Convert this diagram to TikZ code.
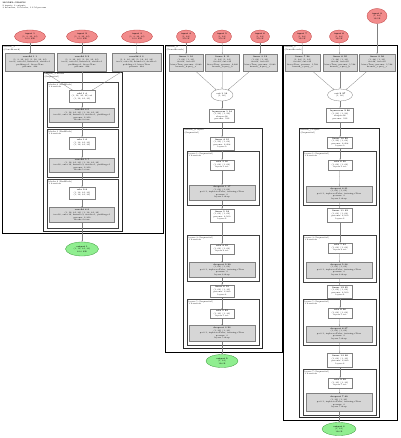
\documentclass[tikz,border=0pt]{standalone}
\usetikzlibrary{arrows.meta,positioning,shapes.geometric}
\definecolor{inred}{HTML}{F28C8C}
\definecolor{inredline}{HTML}{C04040}
\definecolor{outgreen}{HTML}{90EE90}
\definecolor{outgreenline}{HTML}{3C9A3C}
\definecolor{opgray}{HTML}{D6D6D6}
\newcommand{\gsz}{\fontsize{2}{2.5}\selectfont}
\tikzset{
  lbl/.style={font=\gsz, align=center, inner sep=0.6pt},
  innode/.style={lbl, ellipse, draw=inredline, fill=inred, line width=0.3pt, inner sep=0pt},
  outnode/.style={lbl, ellipse, draw=outgreenline, fill=outgreen, line width=0.3pt, inner sep=0pt},
  opbox/.style={lbl, rectangle, draw=gray, fill=opgray, line width=0.3pt},
  fnbox/.style={lbl, rectangle, draw=gray, fill=white, line width=0.3pt},
  fnell/.style={lbl, ellipse, draw=gray, fill=white, line width=0.3pt, inner sep=0pt},
  topclu/.style={draw=black, line width=0.9pt},
  midclu/.style={draw=black!85, line width=0.6pt},
  subclu/.style={draw=black!75, line width=0.5pt},
  clulbl/.style={font=\gsz, align=left, anchor=north west, inner sep=0.4pt},
  flow/.style={draw=gray, line width=0.25pt, -{Stealth[length=1.2pt,width=1pt]}},
}
\begin{document}
\begin{tikzpicture}[x=1pt,y=-1pt]
  \useasboundingbox[fill=white] (0,0) rectangle (400,438);
  \node[clulbl] (title) at (2,1.5) {\textbf{MODEL GRAPH}\\9 inputs, 3 outputs\\3 branches, 10 blocks, 1.2 M params};

  % clusters
  \draw[topclu] (2,45) rectangle (163,233);
  \node[clulbl] (aL) at (3,46) {branch\_a\\(ConvBranch)};
  \draw[midclu] (43,72) rectangle (122,231);
  \node[clulbl] (aL0) at (44,73) {branch\_a.blocks\\(Sequential)};
  \draw[subclu] (47,82) rectangle (118,127);
  \node[clulbl] (aL1) at (48,83) {blocks.0 (ResBlock)\\1 iteration};
  \draw[subclu] (47,129) rectangle (118,177);
  \node[clulbl] (aL2) at (48,130) {blocks.1 (ResBlock)\\1 iteration};
  \draw[subclu] (47,179) rectangle (118,228);
  \node[clulbl] (aL3) at (48,180) {blocks.2 (ResBlock)\\1 iteration};

  \draw[topclu] (165,45) rectangle (282,352);
  \node[clulbl] (bL) at (166,46) {branch\_b\\(DenseBranch)};
  \draw[midclu] (183,128) rectangle (262,348);
  \node[clulbl] (bL0) at (184,129) {branch\_b.layers\\(Sequential)};
  \draw[subclu] (187,151) rectangle (259,205);
  \node[clulbl] (bL1) at (188,152) {layers.1 (Sequential)\\1 iteration};
  \draw[subclu] (187,235) rectangle (259,281);
  \node[clulbl] (bL2) at (188,236) {layers.3 (Sequential)\\1 iteration};
  \draw[subclu] (187,299) rectangle (259,345);
  \node[clulbl] (bL3) at (188,300) {layers.5 (Sequential)\\1 iteration};

  \draw[topclu] (283,45) rectangle (397,420);
  \node[clulbl] (cL) at (284,46) {branch\_c\\(DenseBranch)};
  \draw[midclu] (299,128) rectangle (379,417);
  \node[clulbl] (cL0) at (300,129) {branch\_c.layers\\(Sequential)};
  \draw[subclu] (303,151) rectangle (376,205);
  \node[clulbl] (cL1) at (304,152) {layers.1 (Sequential)\\1 iteration};
  \draw[subclu] (303,235) rectangle (376,282);
  \node[clulbl] (cL2) at (304,236) {layers.3 (Sequential)\\1 iteration};
  \draw[subclu] (303,299) rectangle (376,345);
  \node[clulbl] (cL3) at (304,300) {layers.5 (Sequential)\\1 iteration};
  \draw[subclu] (303,369) rectangle (376,415);
  \node[clulbl] (cL4) at (304,370) {layers.7 (Sequential)\\1 iteration};

  % branch a
  \node[innode, minimum width=31, minimum height=13] (a_in1) at (30,36.5) {\textbf{input 1}\\(1, 3, 32, 32)\\12.0 KB};
  \node[innode, minimum width=31, minimum height=13] (a_in2) at (82,36.5) {\textbf{input 2}\\(1, 3, 32, 32)\\12.0 KB};
  \node[innode, minimum width=31, minimum height=13] (a_in3) at (137,36.5) {\textbf{input 3}\\(1, 3, 32, 32)\\12.0 KB};
  \node[opbox, minimum width=49, minimum height=18] (a_op1) at (30,62.5) {\textbf{conv2d 1 1}\\(1, 3, 32, 32) (1, 16, 32, 32)\\in=3, out=16, kernel=3, stride=1\\padding=1, bias=True\\params: 448};
  \node[opbox, minimum width=49, minimum height=18] (a_op2) at (82,62.5) {\textbf{conv2d 2 2}\\(1, 3, 32, 32) (1, 16, 32, 32)\\in=3, out=16, kernel=3, stride=1\\padding=1, bias=True\\params: 448};
  \node[opbox, minimum width=49, minimum height=18] (a_op3) at (136.5,62.5) {\textbf{conv2d 3 3}\\(1, 3, 32, 32) (1, 16, 32, 32)\\in=3, out=16, kernel=3, stride=1\\padding=1, bias=True\\params: 448};
  \node[fnbox, minimum width=26, minimum height=12] (a_w1) at (82,96.5) {\textbf{add 1 4}\\(1, 16, 32, 32) x3\\(1, 16, 32, 32)};
  \node[opbox, minimum width=65, minimum height=14] (a_g1) at (82,115) {\textbf{conv2d 4 5}\\(1, 16, 32, 32) (1, 16, 32, 32)\\in=16, out=16, kernel=3, stride=1, padding=1\\params: 2,320\\blocks.0.conv};
  \node[fnbox, minimum width=26, minimum height=12] (a_w2) at (82,143) {\textbf{relu 1 6}\\(1, 16, 32, 32)\\(1, 16, 32, 32)};
  \node[opbox, minimum width=65, minimum height=14] (a_g2) at (82,165) {\textbf{conv2d 5 7}\\(1, 16, 32, 32) (1, 16, 32, 32)\\in=16, out=16, kernel=3, stride=1, padding=1\\params: 2,320\\blocks.1.conv};
  \node[fnbox, minimum width=26, minimum height=12] (a_w3) at (82,193) {\textbf{relu 2 8}\\(1, 16, 32, 32)\\(1, 16, 32, 32)};
  \node[opbox, minimum width=65, minimum height=15] (a_g3) at (82,215) {\textbf{conv2d 6 9}\\(1, 16, 32, 32) (1, 16, 32, 32)\\in=16, out=16, kernel=3, stride=1, padding=1\\params: 2,320\\blocks.2.conv};
  \node[outnode, minimum width=33, minimum height=14] (a_out) at (82,249) {\textbf{output 1}\\(1, 16, 32, 32)\\64.0 KB};

  \draw[flow] (a_in1) -- (a_op1);
  \draw[flow] (a_in2) -- (a_op2);
  \draw[flow] (a_in3) -- (a_op3);
  \draw[flow] (a_op1) -- (a_w1);
  \draw[flow] (a_op2) -- (a_w1);
  \draw[flow] (a_op3) -- (a_w1);
  \draw[flow] (a_w1) -- (a_g1);
  \draw[flow] (a_g1) -- (a_w2);
  \draw[flow] (a_w2) -- (a_g2);
  \draw[flow] (a_g2) -- (a_w3);
  \draw[flow] (a_w3) -- (a_g3);
  \draw[flow] (a_g3) -- (a_out);

  % branch b
  \node[innode, minimum width=19, minimum height=13] (b_in1) at (186,36.5) {\textbf{input 4}\\(1, 64)\\256 B};
  \node[innode, minimum width=19, minimum height=13] (b_in2) at (222,36.5) {\textbf{input 5}\\(1, 64)\\256 B};
  \node[innode, minimum width=19, minimum height=13] (b_in3) at (260,36.5) {\textbf{input 6}\\(1, 64)\\256 B};
  \node[opbox, minimum width=34, minimum height=17] (b_op1) at (186,62.5) {\textbf{linear 1 10}\\(1, 64) (1, 32)\\in=64, out=32\\bias=True, params: 2,080\\branch\_b.proj\_a};
  \node[opbox, minimum width=34, minimum height=17] (b_op2) at (222.5,62.5) {\textbf{linear 2 11}\\(1, 64) (1, 32)\\in=64, out=32\\bias=True, params: 2,080\\branch\_b.proj\_b};
  \node[opbox, minimum width=34, minimum height=17] (b_op3) at (260,62.5) {\textbf{linear 3 12}\\(1, 64) (1, 32)\\in=64, out=32\\bias=True, params: 2,080\\branch\_b.proj\_c};
  \node[fnell, minimum width=22, minimum height=12] (b_cat) at (222,95) {\textbf{cat 1 13}\\(1, 96)};
  \node[fnbox, minimum width=25, minimum height=13] (b_box) at (222,115.5) {\textbf{layernorm 1 14}\\(1, 96) (1, 96)\\shape=96\\params: 192};
  \node[fnbox, minimum width=24, minimum height=13] (b_p1) at (222,143.5) {\textbf{linear 4 15}\\(1, 96) (1, 64)\\params: 6,208\\layers.0};
  \node[fnbox, minimum width=24, minimum height=10] (b_n1w) at (222,165) {\textbf{relu 3 16}\\(1, 64) (1, 64)\\layers.1.act};
  \node[opbox, minimum width=66, minimum height=15] (b_n1g) at (222,192.5) {\textbf{dropout 1 17}\\(1, 64) (1, 64)\\p=0.1, inplace=False, training=True\\params: 0\\layers.1.drop};
  \node[fnbox, minimum width=24, minimum height=13] (b_p2) at (222,215.5) {\textbf{linear 5 18}\\(1, 64) (1, 64)\\params: 4,160\\layers.2};
  \node[fnbox, minimum width=24, minimum height=10] (b_n2w) at (222,249) {\textbf{relu 4 19}\\(1, 64) (1, 64)\\layers.3.act};
  \node[opbox, minimum width=66, minimum height=15] (b_n2g) at (222,270) {\textbf{dropout 2 20}\\(1, 64) (1, 64)\\p=0.1, inplace=False, training=True\\params: 0\\layers.3.drop};
  \node[fnbox, minimum width=24, minimum height=12] (b_p3) at (222,291) {\textbf{linear 6 21}\\(1, 64) (1, 32)\\params: 2,080\\layers.4};
  \node[fnbox, minimum width=24, minimum height=9] (b_n3w) at (222,314) {\textbf{relu 5 22}\\(1, 32) (1, 32)\\layers.5.act};
  \node[opbox, minimum width=66, minimum height=16] (b_n3g) at (222,333.5) {\textbf{dropout 3 23}\\(1, 32) (1, 32)\\p=0.1, inplace=False, training=True\\params: 0\\layers.5.drop};
  \node[outnode, minimum width=32, minimum height=13] (b_out) at (222,361) {\textbf{output 2}\\(1, 32)\\128 B};

  \draw[flow] (b_in1) -- (b_op1);
  \draw[flow] (b_in2) -- (b_op2);
  \draw[flow] (b_in3) -- (b_op3);
  \draw[flow] (b_op1) -- (b_cat);
  \draw[flow] (b_op2) -- (b_cat);
  \draw[flow] (b_op3) -- (b_cat);
  \draw[flow] (b_cat) -- (b_box);
  \draw[flow] (b_box) -- (b_p1);
  \draw[flow] (b_p1) -- (b_n1w);
  \draw[flow] (b_n1w) -- (b_n1g);
  \draw[flow] (b_n1g) -- (b_p2);
  \draw[flow] (b_p2) -- (b_n2w);
  \draw[flow] (b_n2w) -- (b_n2g);
  \draw[flow] (b_n2g) -- (b_p3);
  \draw[flow] (b_p3) -- (b_n3w);
  \draw[flow] (b_n3w) -- (b_n3g);
  \draw[flow] (b_n3g) -- (b_out);

  % branch c
  \node[innode, minimum width=19, minimum height=13] (c_in1) at (302,36.5) {\textbf{input 7}\\(1, 48)\\192 B};
  \node[innode, minimum width=19, minimum height=13] (c_in2) at (339,36.5) {\textbf{input 8}\\(1, 48)\\192 B};
  \node[innode, minimum width=20, minimum height=15] (c_in3) at (377,16) {\textbf{input 9}\\(1, 48)\\192 B};
  \node[opbox, minimum width=35, minimum height=17] (c_op1) at (302.5,62.5) {\textbf{linear 7 24}\\(1, 48) (1, 32)\\in=48, out=32\\bias=True, params: 1,568\\branch\_c.proj\_a};
  \node[opbox, minimum width=34, minimum height=17] (c_op2) at (340,62.5) {\textbf{linear 8 25}\\(1, 48) (1, 32)\\in=48, out=32\\bias=True, params: 1,568\\branch\_c.proj\_b};
  \node[opbox, minimum width=36, minimum height=17] (c_op3) at (377,62.5) {\textbf{linear 9 26}\\(1, 48) (1, 32)\\in=48, out=32\\bias=True, params: 1,568\\branch\_c.proj\_c};
  \node[fnell, minimum width=25, minimum height=12] (c_cat) at (340,95) {\textbf{cat 2 27}\\(1, 96)};
  \node[fnbox, minimum width=27, minimum height=14] (c_box) at (340,115) {\textbf{layernorm 2 28}\\(1, 96) (1, 96)\\shape=96\\params: 192};
  \node[fnbox, minimum width=25, minimum height=11] (c_p1) at (340,142.5) {\textbf{linear 10 29}\\(1, 96) (1, 64)\\params: 6,208\\layers.0};
  \node[fnbox, minimum width=24, minimum height=10] (c_n1w) at (340,165) {\textbf{relu 6 30}\\(1, 64) (1, 64)\\layers.1.act};
  \node[opbox, minimum width=66, minimum height=16] (c_n1g) at (339,194) {\textbf{dropout 4 31}\\(1, 64) (1, 64)\\p=0.1, inplace=False, training=True\\params: 0\\layers.1.drop};
  \node[fnbox, minimum width=25, minimum height=14] (c_p2) at (340,215) {\textbf{linear 11 32}\\(1, 64) (1, 64)\\params: 4,160\\layers.2};
  \node[fnbox, minimum width=24, minimum height=10] (c_n2w) at (340,248) {\textbf{relu 7 33}\\(1, 64) (1, 64)\\layers.3.act};
  \node[opbox, minimum width=66, minimum height=16] (c_n2g) at (339,270) {\textbf{dropout 5 34}\\(1, 64) (1, 64)\\p=0.1, inplace=False, training=True\\params: 0\\layers.3.drop};
  \node[fnbox, minimum width=25, minimum height=13] (c_p3) at (340,291.5) {\textbf{linear 12 35}\\(1, 64) (1, 64)\\params: 4,160\\layers.4};
  \node[fnbox, minimum width=24, minimum height=10] (c_n3w) at (340,313) {\textbf{relu 8 36}\\(1, 64) (1, 64)\\layers.5.act};
  \node[opbox, minimum width=66, minimum height=16] (c_n3g) at (339,334) {\textbf{dropout 6 37}\\(1, 64) (1, 64)\\p=0.1, inplace=False, training=True\\params: 0\\layers.5.drop};
  \node[fnbox, minimum width=25, minimum height=14] (c_p4) at (340,360) {\textbf{linear 13 38}\\(1, 64) (1, 32)\\params: 2,080\\layers.6};
  \node[fnbox, minimum width=24, minimum height=10] (c_n4w) at (340,383) {\textbf{relu 9 39}\\(1, 32) (1, 32)\\layers.7.act};
  \node[opbox, minimum width=66, minimum height=18] (c_n4g) at (339,402.5) {\textbf{dropout 7 40}\\(1, 32) (1, 32)\\p=0.1, inplace=False, training=True\\params: 0\\layers.7.drop};
  \node[outnode, minimum width=34, minimum height=13] (c_out) at (339,429) {\textbf{output 3}\\(1, 32)\\128 B};

  \draw[flow] (c_in1) -- (c_op1);
  \draw[flow] (c_in2) -- (c_op2);
  \draw[flow] (c_in3) -- (c_op3);
  \draw[flow] (c_op1) -- (c_cat);
  \draw[flow] (c_op2) -- (c_cat);
  \draw[flow] (c_op3) -- (c_cat);
  \draw[flow] (c_cat) -- (c_box);
  \draw[flow] (c_box) -- (c_p1);
  \draw[flow] (c_p1) -- (c_n1w);
  \draw[flow] (c_n1w) -- (c_n1g);
  \draw[flow] (c_n1g) -- (c_p2);
  \draw[flow] (c_p2) -- (c_n2w);
  \draw[flow] (c_n2w) -- (c_n2g);
  \draw[flow] (c_n2g) -- (c_p3);
  \draw[flow] (c_p3) -- (c_n3w);
  \draw[flow] (c_n3w) -- (c_n3g);
  \draw[flow] (c_n3g) -- (c_p4);
  \draw[flow] (c_p4) -- (c_n4w);
  \draw[flow] (c_n4w) -- (c_n4g);
  \draw[flow] (c_n4g) -- (c_out);
\end{tikzpicture}
\end{document}
